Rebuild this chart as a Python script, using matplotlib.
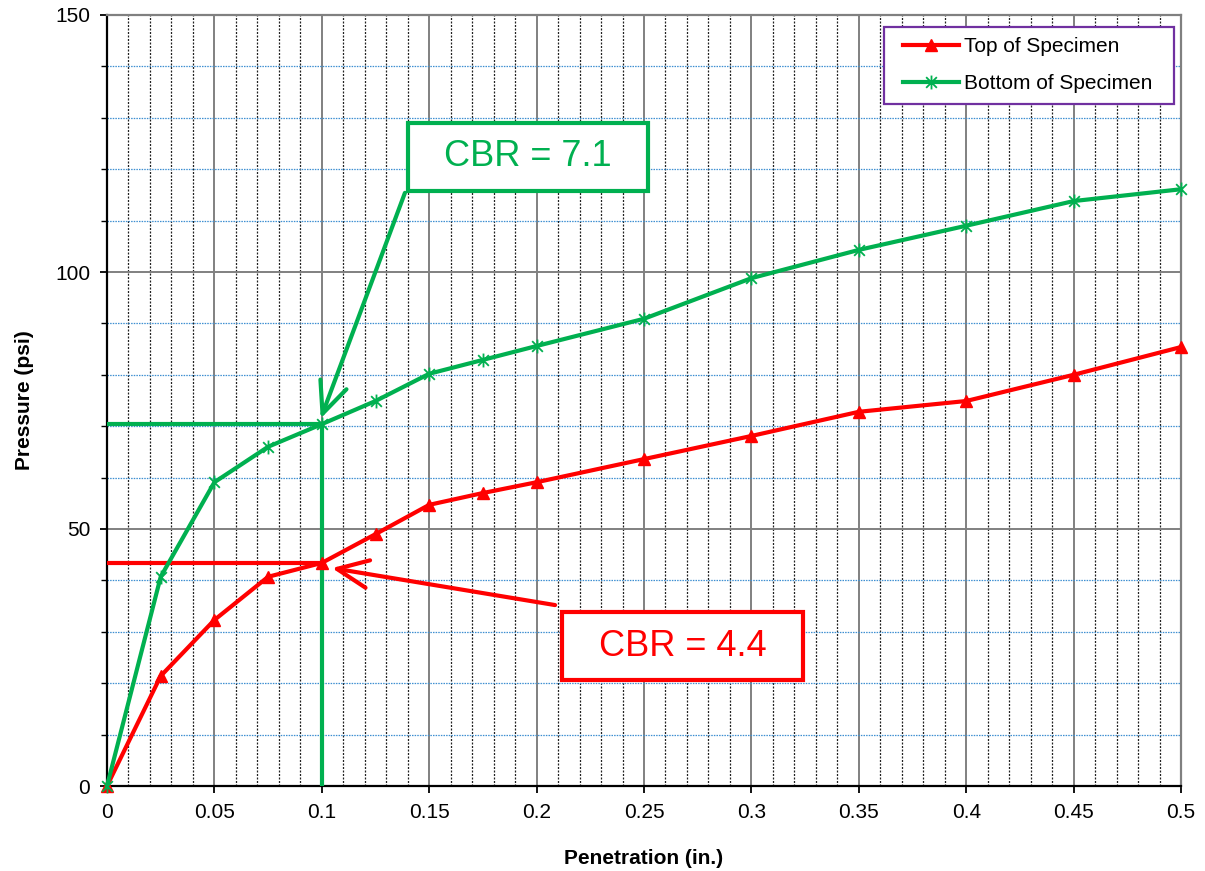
import matplotlib.pyplot as plt
import numpy as np
from matplotlib.legend_handler import HandlerLine2D
from matplotlib.lines import Line2D
from matplotlib.path import Path

plt.rcParams['font.family'] = ['Liberation Sans', 'DejaVu Sans']

penetration = [0, 0.025, 0.05, 0.075, 0.1, 0.125, 0.15, 0.175, 0.2, 0.25, 0.3, 0.35, 0.4, 0.45, 0.5]
top_pressure = [0, 21.4, 32.3, 40.7, 43.4, 49.0, 54.7, 57.0, 59.1, 63.6, 68.1, 72.8, 74.9, 80.0, 85.4]
bottom_pressure = [0, 40.7, 59.1, 66.0, 70.4, 74.9, 80.2, 82.9, 85.6, 90.9, 98.8, 104.3, 109.0, 113.8, 116.1]
cbr_top = 4.4
cbr_bottom = 7.1

red = '#ff0000'
green = '#00b050'

# excel style star marker: an x with a vertical bar through it
star = Path([(-1, -1), (1, 1), (-1, 1), (1, -1), (0, -1.3), (0, 1.3)],
            [Path.MOVETO, Path.LINETO, Path.MOVETO, Path.LINETO, Path.MOVETO, Path.LINETO])

fig = plt.figure(figsize=(12.05, 8.71), dpi=100)
ax = fig.add_axes([107 / 1205, 1 - 786 / 871, (1181 - 107) / 1205, (786 - 15) / 871])

ax.set_xlim(0, 0.5)
ax.set_ylim(0, 150)
ax.set_xticks(np.arange(0, 0.501, 0.05))
ax.set_xticks(np.arange(0, 0.501, 0.01), minor=True)
ax.set_yticks([0, 50, 100, 150])
ax.set_yticks(np.arange(0, 151, 10), minor=True)
ax.set_xticklabels(['0', '0.05', '0.1', '0.15', '0.2', '0.25', '0.3', '0.35', '0.4', '0.45', '0.5'])

ax.grid(which='major', axis='both', color='#808080', linewidth=1.4, linestyle='-')
ax.grid(which='minor', axis='x', color='#222222', linewidth=0.9, linestyle=(0, (1.6, 1.2)))
ax.grid(which='minor', axis='y', color='#3d8fd1', linewidth=0.9, linestyle=(0, (1.2, 0.9)))
ax.set_axisbelow(True)

ax.tick_params(axis='both', which='major', labelsize=15, direction='out', length=5, width=1.3, pad=7)
ax.tick_params(axis='y', which='minor', direction='out', length=4, width=1)
ax.tick_params(axis='x', which='minor', length=0)

for side in ['right', 'top']:
    ax.spines[side].set_color('#808080')
    ax.spines[side].set_linewidth(1.6)
for side in ['left', 'bottom']:
    ax.spines[side].set_linewidth(1.6)

ax.set_xlabel('Penetration (in.)', fontsize=15, fontweight='bold', labelpad=20)
ax.set_ylabel('Pressure (psi)', fontsize=15, fontweight='bold', labelpad=15)

# CBR reference lines at 0.1 in.
ax.plot([0, 0.1], [bottom_pressure[4]] * 2, color=green, linewidth=3, zorder=3)
ax.plot([0.1, 0.1], [0, bottom_pressure[4]], color=green, linewidth=3, zorder=3)
ax.plot([0, 0.1], [top_pressure[4]] * 2, color=red, linewidth=3, zorder=3)

ax.plot(penetration, top_pressure, color=red, linewidth=3, marker='^', markersize=9,
        label='Top of Specimen  ', zorder=4, clip_on=False)
ax.plot(penetration, bottom_pressure, color=green, linewidth=3, marker=star, markersize=10,
        markeredgewidth=1.3, markerfacecolor='none', label='Bottom of Specimen  ', zorder=5, clip_on=False)

# callout boxes and their arrows
ax.text(0.1958, 122.4, f'  CBR = {cbr_bottom}  ', fontsize=26, color=green, ha='center', va='center',
        bbox=dict(boxstyle='square,pad=0.45', fc='white', ec=green, lw=3), zorder=7)
ax.text(0.2679, 27.2, f'  CBR = {cbr_top}  ', fontsize=26, color=red, ha='center', va='center',
        bbox=dict(boxstyle='square,pad=0.45', fc='white', ec=red, lw=3), zorder=7)
ax.annotate('', xy=(0.0995, 71.5), xytext=(0.1387, 115.4),
            arrowprops=dict(arrowstyle='->,head_length=0.9,head_width=0.4', color=green, lw=3,
                            shrinkA=0, shrinkB=0, mutation_scale=25), zorder=6)
ax.annotate('', xy=(0.1047, 42.4), xytext=(0.2086, 35.2),
            arrowprops=dict(arrowstyle='->,head_length=0.9,head_width=0.4', color=red, lw=3,
                            shrinkA=0, shrinkB=0, mutation_scale=25), zorder=6)

leg = ax.legend(loc='upper right', bbox_to_anchor=((1174 - 107) / 1074, (786 - 27) / 771),
                fontsize=15, frameon=True, fancybox=False, borderpad=0.5, handlelength=3.1,
                labelspacing=0.85, handletextpad=0.25, borderaxespad=0, framealpha=1,
                handler_map={Line2D: HandlerLine2D(xpad=0.45)})
leg.get_frame().set_edgecolor('#7030a0')
leg.get_frame().set_linewidth(1.6)

fig.savefig('out.png', dpi=100)
